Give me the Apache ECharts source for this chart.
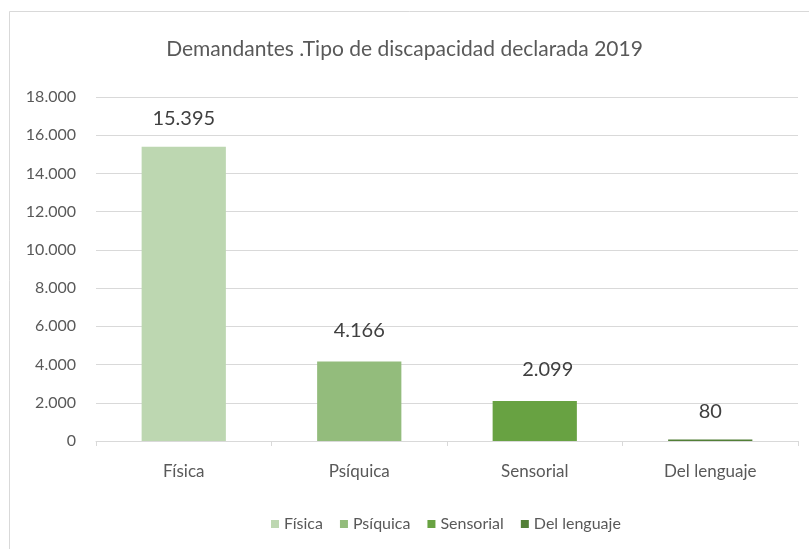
<!DOCTYPE html>
<html>
<head>
<meta charset="utf-8">
<script src="https://cdn.jsdelivr.net/npm/echarts@6/dist/echarts.min.js"></script>
<style>
    html, body { margin: 0; padding: 0; background: #fff; }
    #chart { width: 809px; height: 549px; }
</style>
</head>
<body>
<div id="chart"></div>
<script>
var categories = ["Física", "Psíquica", "Sensorial", "Del lenguaje"];
var values = [15395, 4166, 2099, 80];
var colors = ["#bdd7b1", "#93bc7c", "#68a242", "#527f36"];
var yTicks = { min: 0, max: 18000, interval: 2000 };

var textColor = "#595959";
var fontName = "Lato";

function fmt(v) {
    return String(v).replace(/\B(?=(\d{3})+(?!\d))/g, ".");
}

var chart = echarts.init(document.getElementById("chart"));

// una serie por categoria para tener la leyenda, apiladas para que queden centradas
var series = categories.map(function (name, i) {
    var data = categories.map(function (c, j) {
        return j == i ? values[i] : null;
    });
    return {
        name: name,
        type: "bar",
        stack: "total",
        barWidth: "48%",
        animation: false,
        itemStyle: { color: colors[i] },
        label: {
            show: true,
            position: "top",
            distance: i == 0 || i == 3 ? 18 : 21,
            offset: i == 2 ? [13, 0] : [0, 0],
            color: "#404040",
            fontFamily: fontName,
            fontSize: 20,
            formatter: function (p) {
                return fmt(p.value);
            }
        },
        data: data
    };
});

var option = {
    backgroundColor: "#fff",
    textStyle: { fontFamily: fontName },
    graphic: [{
        type: "rect",
        shape: { x: 9.5, y: 11.5, width: 820, height: 560 },
        style: { fill: null, stroke: "#d9d9d9", lineWidth: 1 },
        silent: true
    }],
    title: {
        text: "Demandantes .Tipo de discapacidad declarada 2019",
        left: "center",
        top: 34,
        textStyle: {
            color: textColor,
            fontFamily: fontName,
            fontSize: 21,
            fontWeight: "normal"
        }
    },
    legend: {
        data: categories,
        left: 266,
        top: 511,
        icon: "rect",
        itemWidth: 8,
        itemHeight: 8,
        itemGap: 17,
        textStyle: { color: textColor, fontFamily: fontName, fontSize: 16 }
    },
    grid: {
        left: 96,
        right: 11,
        top: 97,
        bottom: 108
    },
    xAxis: {
        type: "category",
        data: categories,
        axisLine: { show: true, lineStyle: { color: "#d9d9d9" } },
        axisTick: { show: true, alignWithLabel: false, length: 5, lineStyle: { color: "#d9d9d9" } },
        axisLabel: { color: textColor, fontFamily: fontName, fontSize: 17, margin: 22 }
    },
    yAxis: {
        type: "value",
        min: yTicks.min,
        max: yTicks.max,
        interval: yTicks.interval,
        axisLine: { show: false },
        axisTick: { show: false },
        splitLine: { lineStyle: { color: "#d9d9d9" } },
        axisLabel: {
            color: textColor,
            fontFamily: fontName,
            fontSize: 16,
            margin: 20,
            formatter: fmt
        }
    },
    series: series
};

chart.setOption(option);
</script>
</body>
</html>
